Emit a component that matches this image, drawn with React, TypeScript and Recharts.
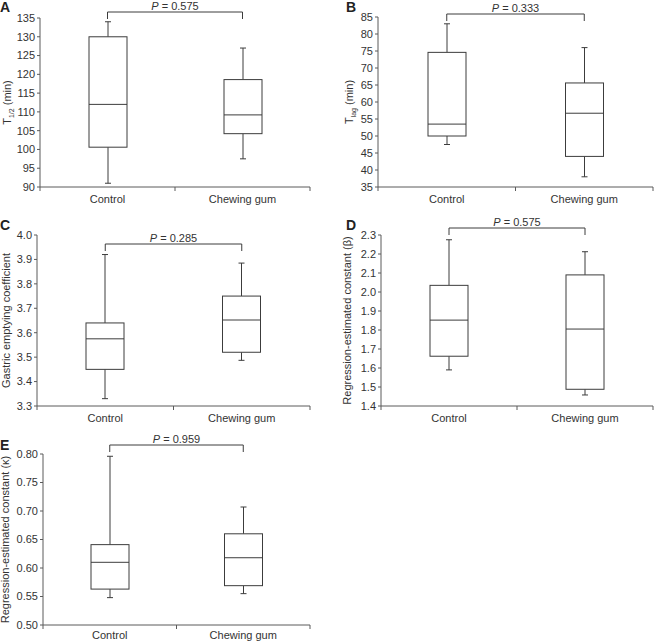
import { ComposedChart, Bar, XAxis, YAxis, ReferenceLine, Label } from 'recharts';

const categories = ['Control', 'Chewing gum'];

// five-number summaries: [min, q1, median, q3, max]
const halfTimeControl = [91, 100.6, 112, 130, 134];
const halfTimeGum = [97.5, 104.2, 109.2, 118.6, 127];
const lagControl = [47.5, 50, 53.5, 74.6, 83];
const lagGum = [38, 44, 56.7, 65.6, 76];
const gecControl = [3.33, 3.45, 3.575, 3.64, 3.92];
const gecGum = [3.487, 3.52, 3.652, 3.75, 3.885];
const betaControl = [1.59, 1.662, 1.852, 2.035, 2.275];
const betaGum = [1.458, 1.488, 1.805, 2.09, 2.212];
const kappaControl = [0.548, 0.563, 0.61, 0.641, 0.796];
const kappaGum = [0.555, 0.569, 0.618, 0.66, 0.707];

const halfTimeTicks = [90, 95, 100, 105, 110, 115, 120, 125, 130, 135];
const lagTicks = [35, 40, 45, 50, 55, 60, 65, 70, 75, 80, 85];
const gecTicks = [3.3, 3.4, 3.5, 3.6, 3.7, 3.8, 3.9, 4.0];
const betaTicks = [1.4, 1.5, 1.6, 1.7, 1.8, 1.9, 2.0, 2.1, 2.2, 2.3];
const kappaTicks = [0.5, 0.55, 0.6, 0.65, 0.7, 0.75, 0.8];

const pValues = ['0.575', '0.333', '0.285', '0.575', '0.959'];

const LINE = '#3c3c3c';
const AXIS = '#5a5a5a';
const TEXT = '#333';
const FONT = '"Liberation Sans", Arial, sans-serif';

type Part = { text: string; sub?: boolean };

function BoxShape(props: any) {
  const { x, y, width, height, payload } = props;
  const s: number[] = payload.stats;
  const lo = s[0];
  const hi = s[4];
  const top = Math.min(y, y + height);
  const h = Math.abs(height);
  const py = (v: number) => top + (h * (hi - v)) / (hi - lo);
  const cx = x + width / 2;
  const cap = 3;
  return (
    <g stroke={LINE} strokeWidth={1} fill="none">
      <line x1={cx} x2={cx} y1={py(s[4])} y2={py(s[3])} />
      <line x1={cx} x2={cx} y1={py(s[1])} y2={py(s[0])} />
      <line x1={cx - cap} x2={cx + cap} y1={py(s[4])} y2={py(s[4])} />
      <line x1={cx - cap} x2={cx + cap} y1={py(s[0])} y2={py(s[0])} />
      <rect x={x} y={py(s[3])} width={width} height={py(s[1]) - py(s[3])} fill="#fff" />
      <line x1={x} x2={x + width} y1={py(s[2])} y2={py(s[2])} />
    </g>
  );
}

function CategoryTick(props: any) {
  const { x, y, payload, index, bandHalf, raise } = props;
  const half = payload && payload.offset ? payload.offset : bandHalf;
  const axisY = y - 8;
  return (
    <g>
      {index === 0 && <line x1={x - half} x2={x - half} y1={axisY} y2={axisY + 4} stroke={AXIS} />}
      <line x1={x + half} x2={x + half} y1={axisY} y2={axisY + 4} stroke={AXIS} />
      <text x={x} y={y - raise} dy="0.71em" textAnchor="middle" fill={TEXT} fontSize={11} fontFamily={FONT}>
        {payload.value}
      </text>
    </g>
  );
}

function Bracket(props: any) {
  const { x1, y1, x2, p, lift } = props;
  const by = y1 - lift;
  return (
    <g>
      <path d={`M${x1},${by + 7}V${by}H${x2}V${by + 7}`} fill="none" stroke={LINE} strokeWidth={1} />
      <text x={(x1 + x2) / 2} y={by - 2} textAnchor="middle" fill={TEXT} fontSize={11} fontFamily={FONT}>
        <tspan fontStyle="italic">P</tspan> = {p}
      </text>
    </g>
  );
}

function AxisTitle(props: any) {
  const { viewBox, parts, baselineX } = props;
  const vb = viewBox || { x: 0, y: 0, width: 0, height: 0 };
  const cx = (vb.x || 0) + baselineX;
  const cy = vb.y + vb.height / 2;
  let shift = 0;
  return (
    <text
      x={cx}
      y={cy}
      transform={`rotate(-90 ${cx} ${cy})`}
      textAnchor="middle"
      fill={TEXT}
      fontSize={11}
      fontFamily={FONT}
    >
      {parts.map((pt: Part, i: number) => {
        const dy = pt.sub ? 2.5 - shift : -shift;
        shift = pt.sub ? 2.5 : 0;
        return (
          <tspan key={i} dy={dy} fontSize={pt.sub ? 7 : 11}>
            {pt.text}
          </tspan>
        );
      })}
    </text>
  );
}

interface PanelProps {
  letter: string;
  control: number[];
  gum: number[];
  ticks: number[];
  digits: number;
  p: string;
  title: Part[];
  left: number;
  top: number;
  width: number;
  height: number;
  yAxisWidth: number;
  marginTop: number;
  marginRight: number;
  xAxisHeight: number;
  titleX: number;
  lift: number;
  letterLeft: number;
  letterTop: number;
  raise?: number;
}

function Panel(pr: PanelProps) {
  const data = categories.map((name, i) => ({ name, stats: i === 0 ? pr.control : pr.gum }));
  const lo = pr.ticks[0];
  const hi = pr.ticks[pr.ticks.length - 1];
  const plotW = pr.width - pr.yAxisWidth - pr.marginRight;
  return (
    <>
      <div
        style={{
          position: 'absolute',
          left: pr.letterLeft,
          top: pr.letterTop,
          fontFamily: FONT,
          fontWeight: 'bold',
          fontSize: 14,
          lineHeight: 1,
          color: '#222',
        }}
      >
        {pr.letter}
      </div>
      <div style={{ position: 'absolute', left: pr.left, top: pr.top }}>
        <ComposedChart
          width={pr.width}
          height={pr.height}
          data={data}
          margin={{ top: pr.marginTop, right: pr.marginRight, bottom: 0, left: 0 }}
        >
          <XAxis
            dataKey="name"
            type="category"
            interval={0}
            height={pr.xAxisHeight}
            tickLine={false}
            tickSize={4}
            tickMargin={4}
            axisLine={{ stroke: AXIS }}
            tick={<CategoryTick bandHalf={plotW / 4} raise={pr.raise || 0} />}
          />
          <YAxis
            type="number"
            width={pr.yAxisWidth}
            domain={[lo, hi]}
            ticks={pr.ticks}
            interval={0}
            tickSize={3}
            tickMargin={2}
            tickLine={{ stroke: AXIS }}
            axisLine={{ stroke: AXIS }}
            tick={{ fill: TEXT, fontSize: 11, fontFamily: FONT }}
            tickFormatter={(v: number) => v.toFixed(pr.digits)}
          >
            <Label content={(lp: any) => <AxisTitle {...lp} parts={pr.title} baselineX={pr.titleX} />} />
          </YAxis>
          <Bar
            dataKey={(d: any) => [d.stats[0], d.stats[4]]}
            barSize={38}
            isAnimationActive={false}
            shape={(sp: any) => <BoxShape {...sp} />}
          />
          <ReferenceLine
            segment={[
              { x: categories[0], y: hi },
              { x: categories[1], y: hi },
            ]}
            ifOverflow="visible"
            shape={(rp: any) => <Bracket {...rp} p={pr.p} lift={pr.lift} />}
          />
        </ComposedChart>
      </div>
    </>
  );
}

export default function App() {
  return (
    <div
      style={{
        position: 'absolute',
        left: 0,
        top: 0,
        width: 654,
        height: 642,
        background: '#fff',
        overflow: 'hidden',
      }}
    >
      <Panel
        letter="A"
        control={halfTimeControl}
        gum={halfTimeGum}
        ticks={halfTimeTicks}
        digits={0}
        p={pValues[0]}
        title={[{ text: 'T' }, { text: '1/2', sub: true }, { text: ' (min)' }]}
        left={0}
        top={0}
        width={315}
        height={211}
        yAxisWidth={40}
        marginTop={18}
        marginRight={5}
        xAxisHeight={24}
        titleX={11}
        lift={6}
        letterLeft={0}
        letterTop={0}
      />
      <Panel
        letter="B"
        control={lagControl}
        gum={lagGum}
        ticks={lagTicks}
        digits={0}
        p={pValues[1]}
        title={[{ text: 'T' }, { text: 'lag', sub: true }, { text: ' (min)' }]}
        left={338}
        top={0}
        width={316}
        height={211}
        yAxisWidth={40}
        marginTop={17}
        marginRight={1}
        xAxisHeight={24}
        titleX={15}
        lift={3}
        letterLeft={346}
        letterTop={0}
      />
      <Panel
        letter="C"
        control={gecControl}
        gum={gecGum}
        ticks={gecTicks}
        digits={1}
        p={pValues[2]}
        title={[{ text: 'Gastric emptying coefficient' }]}
        left={0}
        top={215}
        width={315}
        height={215}
        yAxisWidth={37}
        marginTop={20}
        marginRight={5}
        xAxisHeight={24}
        titleX={10}
        lift={-9}
        letterLeft={0}
        letterTop={218}
      />
      <Panel
        letter="D"
        control={betaControl}
        gum={betaGum}
        ticks={betaTicks}
        digits={1}
        p={pValues[3]}
        title={[{ text: 'Regression-estimated constant (β)' }]}
        left={338}
        top={215}
        width={316}
        height={215}
        yAxisWidth={43}
        marginTop={20}
        marginRight={1}
        xAxisHeight={24}
        titleX={13}
        lift={7}
        letterLeft={346}
        letterTop={218}
      />
      <Panel
        letter="E"
        control={kappaControl}
        gum={kappaGum}
        ticks={kappaTicks}
        digits={2}
        p={pValues[4]}
        title={[{ text: 'Regression-estimated constant (κ)' }]}
        left={0}
        top={430}
        width={315}
        height={212}
        yAxisWidth={43}
        marginTop={24}
        marginRight={5}
        xAxisHeight={17}
        titleX={9}
        lift={9}
        letterLeft={0}
        letterTop={438}
        raise={2}
      />
    </div>
  );
}
